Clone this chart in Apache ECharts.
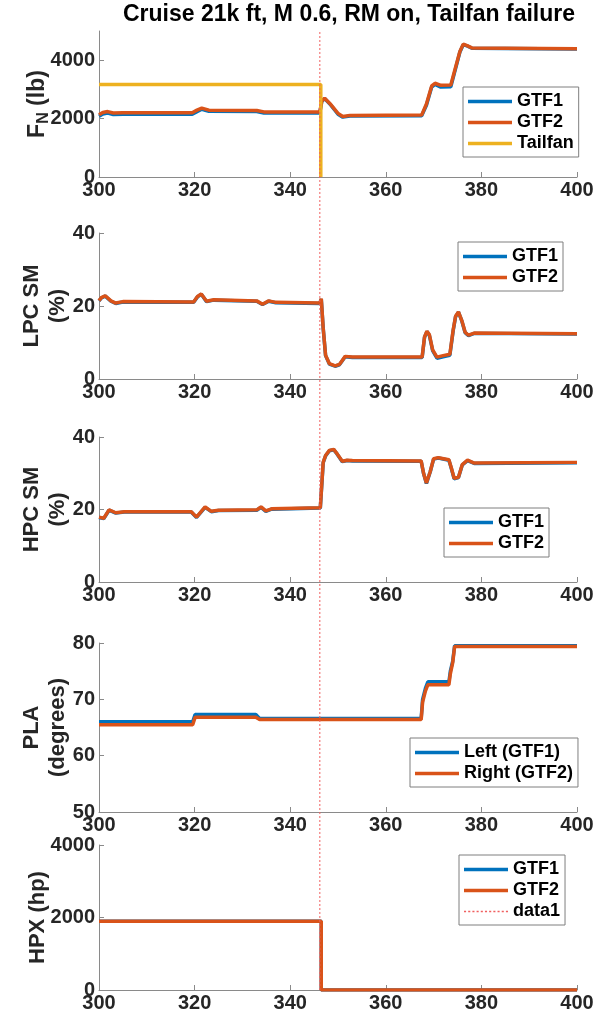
<!DOCTYPE html>
<html><head><meta charset="utf-8">
<script src="https://cdn.jsdelivr.net/npm/echarts@6/dist/echarts.min.js"></script>
<style>html,body{margin:0;padding:0;background:#fff}#c{width:601px;height:1020px}</style>
</head><body><div id="c"></div>
<script>
// ---------- DATA ----------
const chartTitle = 'Cruise 21k ft, M 0.6, RM on, Tailfan failure';
const xTicks = [300, 320, 340, 360, 380, 400];

// Panel 1: net thrust F_N (lb)
const tFn = [300, 300.8, 301.8, 303, 305, 319.5, 320.5, 321.5, 323, 333, 334.5, 336, 346.2, 346.4, 346.6, 347.2, 348.5, 350, 351, 352.5, 367.5, 368.5, 369.6, 370.3, 371.5, 373.6, 374.5, 375.5, 376.2, 377, 378, 385, 400];
const fnGtf2 = [2130, 2210, 2240, 2190, 2200, 2200, 2290, 2360, 2290, 2280, 2230, 2230, 2230, 2240, 2600, 2700, 2480, 2180, 2070, 2110, 2120, 2500, 3120, 3210, 3140, 3150, 3700, 4300, 4550, 4500, 4420, 4410, 4390];
const fnGtf1 = [2080, 2160, 2190, 2140, 2150, 2150, 2240, 2320, 2250, 2240, 2190, 2190, 2190, 2200, 2580, 2690, 2460, 2150, 2050, 2090, 2100, 2460, 3080, 3170, 3080, 3090, 3650, 4280, 4530, 4490, 4410, 4400, 4380];
const tTail = [300, 346.4, 346.4];
const fnTail = [3170, 3170, 0];
const fnTicks = [0, 2000, 4000];

// Panel 2: LPC surge margin (%)
const tLpc = [300, 300.5, 301.3, 302.5, 303.5, 305, 319.8, 320.6, 321.4, 322.5, 324, 333, 334.2, 335.5, 337, 346.2, 346.5, 346.9, 347.4, 348.2, 349.4, 350.3, 351.5, 353, 367.6, 368.1, 368.6, 369.1, 369.8, 370.7, 372, 373.4, 374.1, 374.6, 375.2, 375.9, 376.6, 377.3, 378.5, 400];
const lpcGtf2 = [21.5, 22.3, 22.8, 21.4, 20.8, 21.2, 21.1, 22.6, 23.3, 21.3, 21.7, 21.4, 20.5, 21.4, 21.0, 20.8, 22.0, 14.0, 6.5, 4.2, 3.6, 4.0, 6.2, 6.0, 6.0, 11.5, 13.1, 12.2, 8.0, 6.0, 6.4, 6.8, 13.5, 17.2, 18.4, 16.0, 12.8, 12.0, 12.6, 12.4];
const lpcGtf1 = [21.4, 22.2, 22.7, 21.3, 20.7, 21.1, 21.0, 22.5, 23.2, 21.2, 21.6, 21.3, 20.4, 21.3, 20.9, 20.7, 21.9, 13.9, 6.4, 4.1, 3.5, 3.9, 6.1, 5.9, 5.9, 11.4, 13.0, 12.0, 7.8, 5.7, 6.1, 6.5, 13.3, 17.1, 18.3, 15.9, 12.7, 11.9, 12.5, 12.3];
const lpcTicks = [0, 20, 40];

// Panel 3: HPC surge margin (%)
const tHpc = [300, 301, 302.1, 303.5, 305.3, 319.3, 320.4, 322.2, 323.5, 325, 333, 333.9, 334.9, 336.1, 346.3, 346.9, 347.4, 348.2, 349.1, 349.8, 350.9, 351.9, 353, 367.4, 367.9, 368.5, 369.3, 370, 371, 373.2, 373.7, 374.3, 375.2, 376, 377.1, 378.5, 400];
const hpcGtf2 = [17.9, 17.6, 19.9, 19.1, 19.4, 19.4, 17.9, 20.7, 19.5, 19.8, 19.9, 20.7, 19.6, 20.2, 20.5, 33.0, 34.9, 36.3, 36.6, 35.4, 33.3, 33.6, 33.5, 33.4, 30.0, 27.3, 30.5, 34.0, 34.3, 33.7, 31.5, 28.6, 28.9, 32.4, 33.6, 32.8, 33.0];
const hpcGtf1 = [17.8, 17.5, 19.8, 19.0, 19.3, 19.3, 17.8, 20.6, 19.4, 19.7, 19.8, 20.6, 19.5, 20.1, 20.4, 32.9, 34.8, 36.2, 36.5, 35.3, 33.2, 33.5, 33.4, 33.3, 29.9, 27.2, 30.4, 33.9, 34.2, 33.6, 31.4, 28.5, 28.8, 32.3, 33.5, 32.7, 32.9];
const hpcTicks = [0, 20, 40];

// Panel 4: power lever angle (degrees)
const tPla = [300, 319.6, 320.1, 332.8, 333.6, 367.4, 367.7, 368.3, 368.8, 373.2, 373.5, 374.0, 374.4, 400];
const plaLeft = [66.0, 66.0, 67.3, 67.3, 66.6, 66.6, 70.0, 72.0, 73.1, 73.1, 75.0, 76.8, 79.5, 79.5];
const plaRight = [65.5, 65.5, 66.8, 66.8, 66.4, 66.4, 69.5, 71.5, 72.6, 72.6, 74.5, 76.5, 79.4, 79.4];
const plaTicks = [50, 60, 70, 80];

// Panel 5: power extraction HPX (hp)
const tHpx = [300, 346.5, 346.5, 400];
const hpxGtf1 = [1900, 1900, 0, 0];
const hpxGtf2 = [1900, 1900, 0, 0];
const hpxTicks = [0, 2000, 4000];

// Failure instant marker (data1)
const tFail = [346.2, 346.2];
const failY = [0, 1];

// ---------- STYLE / LAYOUT ----------
const FONT = '"Liberation Sans",Arial,sans-serif';
const TXT = '#262626';
const AX = '#8a8a8a';
const C1 = '#0072BD', C2 = '#D95319', C3 = '#EDB120', CR = '#F06060';
const panels = [
  {top: 31, h: 146, min: 0, max: 5000, ticks: fnTicks},
  {top: 233, h: 146, min: 0, max: 40, ticks: lpcTicks},
  {top: 437, h: 145, min: 0, max: 40, ticks: hpcTicks},
  {top: 643, h: 169, min: 50, max: 80, ticks: plaTicks},
  {top: 845, h: 145, min: 0, max: 4000, ticks: hpxTicks}
];
const L = 99, W = 478;
const zip = (t, v) => t.map((x, i) => [x, v[i]]);

const grid = panels.map(p => ({left: L, width: W, top: p.top, height: p.h}));
grid.push({left: L, width: W, top: panels[0].top, height: panels[4].top + panels[4].h - panels[0].top});

const lblStyle = {color: TXT, fontFamily: FONT, fontWeight: 'bold', fontSize: 20, formatter: v => String(v)};
const xAxis = panels.map((p, i) => ({
  type: 'value', gridIndex: i, min: 300, max: 400, interval: 20,
  axisLine: {show: true, onZero: false, lineStyle: {color: AX, width: 1}},
  axisTick: {show: true, inside: true, length: 5, lineStyle: {color: AX}, customValues: xTicks},
  axisLabel: Object.assign({margin: 3, customValues: xTicks}, lblStyle),
  splitLine: {show: false}
}));
xAxis.push({type: 'value', gridIndex: 5, min: 300, max: 400, show: false});

const names = [
  '{a|F}{b|N}{a| (lb)}',
  'LPC SM\n(%)',
  'HPC SM\n(%)',
  'PLA\n(degrees)',
  'HPX (hp)'
];
const gaps = [48, 28, 28, 28, 48];
const yAxis = panels.map((p, i) => ({
  type: 'value', gridIndex: i, min: p.min, max: p.max,
  name: names[i], nameLocation: 'middle', nameGap: gaps[i], nameRotate: 90,
  nameMoveOverlap: false,
  nameTextStyle: {
    color: TXT, fontFamily: FONT, fontWeight: 'bold', fontSize: 22, lineHeight: 26,
    rich: {
      a: {color: TXT, fontFamily: FONT, fontWeight: 'bold', fontSize: 23},
      b: {color: TXT, fontFamily: FONT, fontWeight: 'bold', fontSize: 16, padding: [11, 0, 0, 0], verticalAlign: 'top'}
    }
  },
  axisLine: {show: true, onZero: false, lineStyle: {color: AX, width: 1}},
  axisTick: {show: true, inside: true, length: 5, lineStyle: {color: AX}, customValues: p.ticks},
  axisLabel: Object.assign({margin: 4, customValues: p.ticks}, lblStyle),
  splitLine: {show: false}
}));
yAxis.push({type: 'value', gridIndex: 5, min: 0, max: 1, show: false});

function line(name, gi, data, color, extra) {
  return Object.assign({
    type: 'line', name, xAxisIndex: gi, yAxisIndex: gi, data,
    showSymbol: false, symbol: 'none', smooth: false, animation: false,
    lineStyle: {color, width: 3.5}, itemStyle: {color}, z: 2
  }, extra || {});
}

const series = [
  line('GTF1', 0, zip(tFn, fnGtf1), C1),
  line('GTF2', 0, zip(tFn, fnGtf2), C2),
  line('Tailfan', 0, zip(tTail, fnTail), C3),
  line('GTF1', 1, zip(tLpc, lpcGtf1), C1),
  line('GTF2', 1, zip(tLpc, lpcGtf2), C2),
  line('GTF1', 2, zip(tHpc, hpcGtf1), C1),
  line('GTF2', 2, zip(tHpc, hpcGtf2), C2),
  line('Left (GTF1)', 3, zip(tPla, plaLeft), C1),
  line('Right (GTF2)', 3, zip(tPla, plaRight), C2),
  line('GTF1', 4, zip(tHpx, hpxGtf1), C1),
  line('GTF2', 4, zip(tHpx, hpxGtf2), C2),
  line('data1', 5, zip(tFail, failY), CR, {lineStyle: {color: CR, width: 1, type: [2, 2]}, z: 5})
];

// legend icons: solid line and dotted line
const SOLID = 'path://M0,0H44V3.5H0Z';
let dots = '';
for (let i = 0; i < 11; i++) dots += 'M' + (i * 4) + ',0h2v1.6h-2z';
const DOTTED = 'path://' + dots;
const item = n => ({name: n, icon: n === 'data1' ? DOTTED : SOLID});

const legendBase = {
  orient: 'vertical', itemWidth: 44, itemHeight: 3.5, itemGap: 2,
  padding: [5, 5, 4, 5], borderColor: '#7f7f7f', borderWidth: 1, backgroundColor: '#fff',
  textStyle: {color: '#000', fontFamily: FONT, fontWeight: 'bold', fontSize: 18, lineHeight: 19},
  selectedMode: false
};
const legend = [
  Object.assign({}, legendBase, {data: ['GTF1', 'GTF2', 'Tailfan'].map(item), left: 463, top: 87}),
  Object.assign({}, legendBase, {data: ['GTF1', 'GTF2'].map(item), left: 458, top: 242}),
  Object.assign({}, legendBase, {data: ['GTF1', 'GTF2'].map(item), left: 444, top: 508}),
  Object.assign({}, legendBase, {data: ['Left (GTF1)', 'Right (GTF2)'].map(item), left: 410, top: 738}),
  Object.assign({}, legendBase, {data: ['GTF1', 'GTF2', 'data1'].map(item), left: 459, top: 855})
];

const chart = echarts.init(document.getElementById('c'), null, {renderer: 'canvas'});
chart.setOption({
  animation: false,
  backgroundColor: '#fff',
  grid, xAxis, yAxis, series, legend,
  graphic: [{
    type: 'text', x: 349, y: 3,
    style: {text: chartTitle, textAlign: 'center', fill: '#000', font: 'bold 23px ' + FONT}
  }]
});
</script></body></html>
